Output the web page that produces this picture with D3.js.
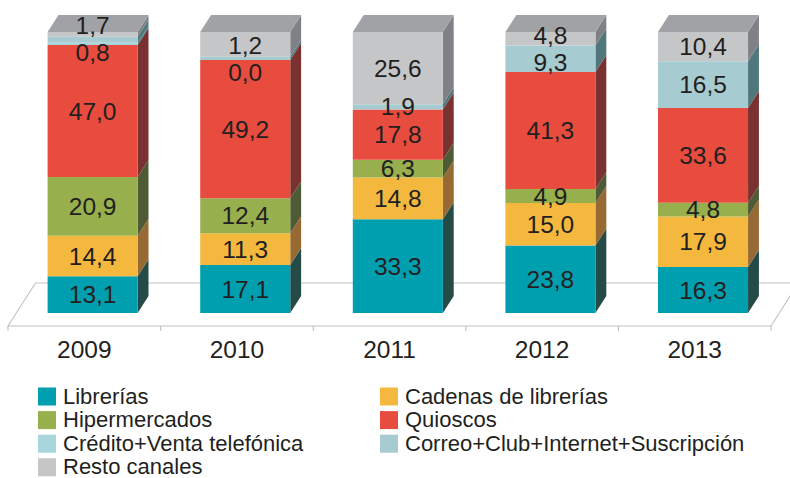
<!DOCTYPE html>
<html>
<head>
<meta charset="utf-8">
<script src="https://cdn.jsdelivr.net/npm/d3@7/dist/d3.min.js"></script>
<style>
  html, body { margin: 0; padding: 0; background: #fff; }
  svg { display: block; font-family: "Liberation Sans", Arial, Helvetica, sans-serif; }
</style>
</head>
<body>
<svg id="chart" width="790" height="478"></svg>
<script>
// Ventas por canal de distribución (% sobre el total de cada año)
const years = ["2009", "2010", "2011", "2012", "2013"];

const seriesNames = [
  "Librerías",
  "Cadenas de librerías",
  "Hipermercados",
  "Quioscos",
  "Crédito+Venta telefónica",
  "Correo+Club+Internet+Suscripción",
  "Resto canales"
];

const libreriasVals = [13.1, 17.1, 33.3, 23.8, 16.3];
const cadenasVals   = [14.4, 11.3, 14.8, 15.0, 17.9];
const hiperVals     = [20.9, 12.4, 6.3, 4.9, 4.8];
const quioscosVals  = [47.0, 49.2, 17.8, 41.3, 33.6];
const creditoVals   = [0.8, 0.0, null, null, null];
const correoVals    = [2.1, 1.2, 1.9, 9.3, 16.5];
const restoVals     = [1.7, 8.8, 25.6, 4.8, 10.4];

// segments that carry no value label
const unlabeled = [
  ["2009", "Correo+Club+Internet+Suscripción"],
  ["2010", "Resto canales"]
];

const frontColors = ["#009fb0", "#f5b83e", "#97af4c", "#e84c3e", "#a9d6dc", "#a6cbd1", "#c5c6c8"];
const sideColors  = ["#254b48", "#976a33", "#4f5b35", "#7a3230", "#4b7c82", "#50777c", "#808184"];
const topColor = "#a1a2a5";

const seriesVals = [libreriasVals, cadenasVals, hiperVals, quioscosVals, creditoVals, correoVals, restoVals];

const rows = years.map((y, i) => {
  const r = { year: y };
  seriesNames.forEach((s, k) => { r[s] = seriesVals[k][i]; });
  return r;
});

// ---- oblique projection of the 3D plot box ----
const floorY = 326;       // front edge of the floor
const floorDepth = 43;
const barD0 = 13, barD1 = 30;  // bar depth extent on the floor
const kx = 0.64;          // horizontal shift per unit of depth
const P = (x, d, h) => [x + d * kx, floorY - d - h];

const svg = d3.select("#chart");

const x = d3.scaleBand().domain(years).range([8, 771]).paddingInner(0.41).paddingOuter(0.205);
const xTicks = d3.scaleBand().domain(years).range([8, 771]);
const h = d3.scaleLinear().domain([0, 1]).range([0, 281]);

const stack = d3.stack()
  .keys(seriesNames)
  .value((d, k) => d[k] == null ? 0 : d[k])
  .offset(d3.stackOffsetExpand);
const layers = stack(rows);

// ---- floor ----
const floorG = svg.append("g").attr("fill", "none").attr("stroke", "#c2c2c2").attr("stroke-width", 1.1);
const x0 = 8, x1 = 771;
const floorPts = [P(x0, 0, 0), P(x1, 0, 0), P(x1, floorDepth, 0), P(x0, floorDepth, 0)];
floorG.append("path").attr("d", d3.line()(floorPts) + "Z");
const tickXs = years.map(y => xTicks(y)).concat([x1]);
floorG.selectAll("line.tick").data(tickXs).join("line")
  .attr("class", "tick")
  .attr("x1", d => d).attr("x2", d => d)
  .attr("y1", floorY).attr("y2", floorY + 5);

// ---- axis labels ----
svg.append("g").selectAll("text").data(years).join("text")
  .attr("x", d => xTicks(d) + xTicks.bandwidth() / 2)
  .attr("y", 358)
  .attr("text-anchor", "middle")
  .attr("font-size", 24.5)
  .attr("fill", "#231f20")
  .text(d => d);

// ---- bars ----
const poly = pts => d3.line()(pts) + "Z";
const bw = x.bandwidth();
const barsG = svg.append("g");

years.forEach((yr, i) => {
  const bx = x(yr);
  const g = barsG.append("g");
  layers.forEach((layer, k) => {
    const seg = layer[i];
    const h0 = h(seg[0]), h1 = h(seg[1]);
    if (h1 - h0 <= 0) return;
    g.append("path")
      .attr("d", poly([P(bx + bw, barD0, h0), P(bx + bw, barD1, h0), P(bx + bw, barD1, h1), P(bx + bw, barD0, h1)]))
      .attr("fill", sideColors[k]);
    g.append("path")
      .attr("d", poly([P(bx, barD0, h0), P(bx + bw, barD0, h0), P(bx + bw, barD0, h1), P(bx, barD0, h1)]))
      .attr("fill", frontColors[k]);
  });
  const top = h(1);
  g.append("path")
    .attr("d", poly([P(bx, barD0, top), P(bx + bw, barD0, top), P(bx + bw, barD1, top), P(bx, barD1, top)]))
    .attr("fill", topColor);
});

// ---- value labels, centred on each front face and spread apart when crowded ----
const fmt = v => d3.format(".1f")(v).replace(".", ",");
const hidden = new Set(unlabeled.map(d => d[0] + "|" + d[1]));
const minGap = 27;
const labelG = svg.append("g");

years.forEach((yr, i) => {
  const cx = x(yr) + bw / 2 + barD0 * kx;
  const labels = [];
  layers.forEach((layer, k) => {
    const v = rows[i][seriesNames[k]];
    if (v == null || hidden.has(yr + "|" + seriesNames[k])) return;
    const seg = layer[i];
    labels.push({ text: fmt(v), y: floorY - barD0 - h((seg[0] + seg[1]) / 2) });
  });
  labels.sort((a, b) => a.y - b.y);
  for (let it = 0; it < 40; it++) {
    for (let j = 1; j < labels.length; j++) {
      const gap = labels[j].y - labels[j - 1].y;
      if (gap < minGap) {
        const push = (minGap - gap) / 2;
        labels[j - 1].y -= push;
        labels[j].y += push;
      }
    }
  }
  labelG.selectAll(null).data(labels).join("text")
    .attr("x", cx)
    .attr("y", d => d.y)
    .attr("dy", "0.35em")
    .attr("text-anchor", "middle")
    .attr("font-size", 24.5)
    .attr("fill", "#231f20")
    .text(d => d.text);
});

// ---- legend ----
const legend = svg.append("g");
const legItems = legend.selectAll("g").data(seriesNames).join("g")
  .attr("transform", (d, i) => `translate(${i % 2 === 0 ? 38 : 380},${387.5 + Math.floor(i / 2) * 23.6})`);
legItems.append("rect")
  .attr("width", 18).attr("height", 18)
  .attr("fill", (d, i) => frontColors[i]);
legItems.append("text")
  .attr("x", 25).attr("y", 16)
  .attr("font-size", 22)
  .attr("fill", "#231f20")
  .text(d => d);
</script>
</body>
</html>
